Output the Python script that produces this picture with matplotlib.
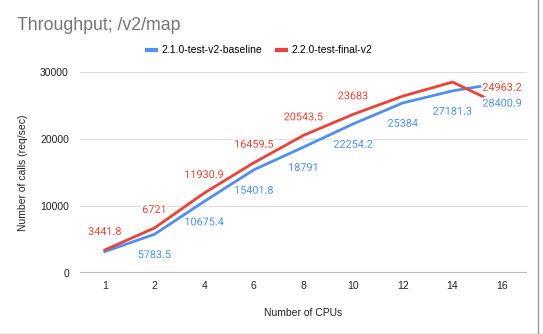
import matplotlib.pyplot as plt
import matplotlib.patheffects as pe
from matplotlib.lines import Line2D

plt.rcParams["font.family"] = ["Liberation Sans", "DejaVu Sans"]

cpus = ["1", "2", "4", "6", "8", "10", "12", "14", "16"]
baseline = [3200, 5783.5, 10675.4, 15401.8, 18791, 22254.2, 25384, 27181.3, 28400.9]
final_v2 = [3441.8, 6721, 11930.9, 16459.5, 20543.5, 23683, 26400, 28500, 24963.2]
# labels shown in the chart (None = hidden because of overlap)
baseline_labels = [None, "5783.5", "10675.4", "15401.8", "18791", "22254.2", "25384", "27181.3", "28400.9"]
final_labels = ["3441.8", "6721", "11930.9", "16459.5", "20543.5", "23683", None, None, "24963.2"]

BLUE = "#4f8ef5"
RED = "#ea4335"

fig = plt.figure(figsize=(5.43, 3.34), dpi=100)
ax = fig.add_axes([80 / 543, 1 - 273 / 334, 447 / 543, 201 / 334])

x = list(range(len(cpus)))
ax.plot(x, baseline, color=BLUE, lw=2, label="2.1.0-test-v2-baseline", zorder=3)
ax.plot(x, final_v2, color=RED, lw=2, label="2.2.0-test-final-v2", zorder=3)

halo = [pe.withStroke(linewidth=3, foreground="white")]
for xi, v, lab in zip(x, baseline, baseline_labels):
    if lab:
        ax.annotate(lab, (xi, v), xytext=(0, -15), textcoords="offset points",
                    ha="center", va="center", color=BLUE, fontsize=7.8,
                    family="Roboto", path_effects=halo, zorder=5)
for xi, v, lab in zip(x, final_v2, final_labels):
    if lab:
        ax.annotate(lab, (xi, v), xytext=(0, 13), textcoords="offset points",
                    ha="center", va="center", color=RED, fontsize=7.8,
                    family="Roboto", path_effects=halo, zorder=5)

ax.set_xlim(-0.5, len(cpus) - 0.5)
ax.set_ylim(0, 30000)
ax.set_xticks(x)
ax.set_xticklabels(cpus)
ax.set_yticks([0, 10000, 20000, 30000])
ax.tick_params(axis="both", length=0, labelsize=7.5, colors="#222222")
ax.tick_params(axis="x", pad=6)
ax.tick_params(axis="y", pad=8)
ax.grid(axis="y", color="#dddddd", lw=0.8)
ax.axhline(0, color="#bbbbbb", lw=1.6, zorder=2)
for s in ax.spines.values():
    s.set_visible(False)
ax.set_axisbelow(True)

ax.set_xlabel("Number of CPUs", fontsize=7.5, color="#222222", labelpad=12)
ax.set_ylabel("Number of calls (req/sec)", fontsize=7.5, color="#222222", labelpad=9)

fig.text(17 / 543, 1 - 25 / 334, "Throughput; /v2/map", fontsize=12.8,
         color="#757575", va="center", ha="left")
fig.legend(loc="center", bbox_to_anchor=(260 / 543, 1 - 50 / 334), ncol=2,
           frameon=False, fontsize=7.5, handlelength=0.8, handleheight=0.5,
           columnspacing=1.4, handletextpad=0.6)
for h in fig.legends[0].get_lines():
    h.set_linewidth(3)

# screenshot border on right/bottom
fig.add_artist(Line2D([538 / 543, 538 / 543], [0, 1], color="#999999", lw=1))
fig.add_artist(Line2D([0, 1], [0.5 / 334, 0.5 / 334], color="#999999", lw=1))

fig.savefig("out.png", dpi=100)
